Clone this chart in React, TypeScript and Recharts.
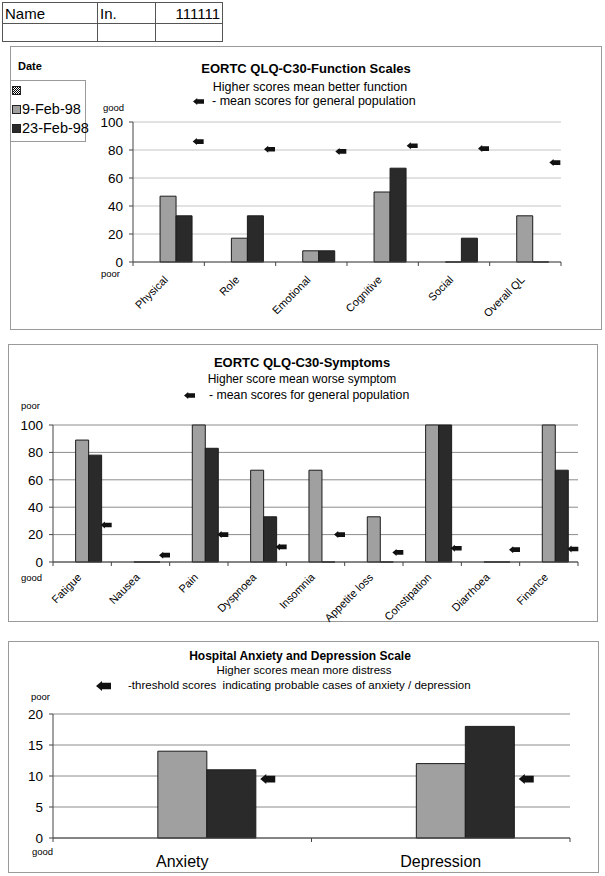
import React from 'react';
import { ComposedChart, Bar, Line, XAxis, YAxis, CartesianGrid } from 'recharts';

const FONT = '"Liberation Sans", Arial, Helvetica, sans-serif';

// ---------- Data ----------
const functionCategories = ['Physical', 'Role', 'Emotional', 'Cognitive', 'Social', 'Overall QL'];
const functionBlank: (number | null)[] = [null, null, null, null, null, null];
const function9Feb = [47, 17, 8, 50, 0, 33];
const function23Feb = [33, 33, 8, 67, 17, 0];
const functionPopMean = [86, 80.5, 79, 83, 81, 71];
const functionTicks = [0, 20, 40, 60, 80, 100];

const symptomCategories = ['Fatigue', 'Nausea', 'Pain', 'Dyspnoea', 'Insomnia', 'Appetite loss', 'Constipation', 'Diarrhoea', 'Finance'];
const symptomBlank: (number | null)[] = [null, null, null, null, null, null, null, null, null];
const symptom9Feb = [89, 0, 100, 67, 67, 33, 100, 0, 100];
const symptom23Feb = [78, 0, 83, 33, 0, 0, 100, 0, 67];
const symptomPopMean = [27, 5, 20, 11, 20, 7, 10, 9, 9.5];
const symptomTicks = [0, 20, 40, 60, 80, 100];

const hadsCategories = ['Anxiety', 'Depression'];
const hadsBlank: (number | null)[] = [null, null];
const hads9Feb = [14, 12];
const hads23Feb = [11, 18];
const hadsThreshold = [9.5, 9.5];
const hadsTicks = [0, 5, 10, 15, 20];

const legendLabels = ['', '9-Feb-98', '23-Feb-98'];
const tableRow1 = ['Name', 'In.', '111111'];

// ---------- Styles ----------
const GRAY = '#a0a0a0';
const DARK = '#2a2a2a';
const EDGE = '#1c1c1c';

const build = (cats: string[], blank: (number | null)[], a: number[], b: number[], m: number[]) =>
  cats.map((c, i) => ({ category: c, blank: blank[i], d1: a[i], d2: b[i], mean: m[i] }));

const functionData = build(functionCategories, functionBlank, function9Feb, function23Feb, functionPopMean);
const symptomData = build(symptomCategories, symptomBlank, symptom9Feb, symptom23Feb, symptomPopMean);
const hadsData = build(hadsCategories, hadsBlank, hads9Feb, hads23Feb, hadsThreshold);

const arrowD = (tipX: number, cy: number, len: number, h: number) => {
  const head = h * 0.6;
  const bh = h * 0.33;
  return `M${tipX},${cy} L${tipX + head},${cy - h / 2} L${tipX + head},${cy - bh} L${tipX + len},${cy - bh} L${tipX + len},${cy + bh} L${tipX + head},${cy + bh} L${tipX + head},${cy + h / 2} Z`;
};

const BarShape = (p: any) => {
  const { x, y, width, height, fill } = p;
  if (x == null || y == null || !Number.isFinite(width) || !Number.isFinite(y)) return <g />;
  const h = Math.max(Number.isFinite(height) ? height : 0, 0);
  return <path d={`M${x},${y + h} V${y} H${x + width} V${y + h} Z`} fill={fill} stroke={EDGE} strokeWidth={1} />;
};

const BlankShape = () => <g />;

const makeArrowDot = (off: number, len: number, h: number) => (p: any) => {
  const { cx, cy, index } = p;
  if (!Number.isFinite(cx) || !Number.isFinite(cy)) return <g key={`a${index}`} />;
  return <path key={`a${index}`} d={arrowD(cx + off, cy, len, h)} fill="#111" />;
};

const makeRotTick = (band: number, fontSize: number, dy: number, count: number) => (props: any) => {
  const { x, y, payload, index } = props;
  const hb = band / 2;
  const ax = x;
  const ay = y + dy;
  return (
    <g>
      <line x1={x - hb} y1={y} x2={x - hb} y2={y + 4} stroke="#444" />
      {index === count - 1 && <line x1={x + hb} y1={y} x2={x + hb} y2={y + 4} stroke="#444" />}
      <text x={ax} y={ay} textAnchor="end" transform={`rotate(-45 ${ax} ${ay})`} fontSize={fontSize} fontFamily={FONT} fill="#000">
        {payload.value}
      </text>
    </g>
  );
};

const makeFlatTick = (band: number, fontSize: number, dy: number, count: number) => (props: any) => {
  const { x, y, payload, index } = props;
  const hb = band / 2;
  return (
    <g>
      <line x1={x - hb} y1={y} x2={x - hb} y2={y + 4} stroke="#444" />
      {index === count - 1 && <line x1={x + hb} y1={y} x2={x + hb} y2={y + 4} stroke="#444" />}
      <text x={x} y={y + dy} textAnchor="middle" fontSize={fontSize} fontFamily={FONT} fill="#000">
        {payload.value}
      </text>
    </g>
  );
};

function T({ x, y, size, bold = false, anchor = 'start', children }: any) {
  const tx = anchor === 'middle' ? '-50%' : anchor === 'end' ? '-100%' : '0';
  return (
    <div
      style={{
        position: 'absolute',
        left: x,
        top: y,
        transform: `translate(${tx}, -50%)`,
        fontSize: size,
        fontWeight: bold ? 700 : 400,
        fontFamily: FONT,
        whiteSpace: 'pre',
        lineHeight: 1,
        color: '#000',
      }}
    >
      {children}
    </div>
  );
}

function ArrowIcon({ x, y, len, h }: any) {
  return (
    <svg style={{ position: 'absolute', left: x, top: y - h / 2 - 1 }} width={len + 2} height={h + 2}>
      <path d={arrowD(1, h / 2 + 1, len, h)} fill="#111" />
    </svg>
  );
}

function Panel({ left, top, width, height }: any) {
  return (
    <div
      style={{
        position: 'absolute',
        left,
        top,
        width: width - 2,
        height: height - 2,
        border: '1px solid #9a9a9a',
      }}
    />
  );
}

type ChartProps = {
  data: any[];
  left: number;
  top: number;
  width: number;
  height: number;
  marginTop: number;
  marginRight: number;
  yWidth: number;
  xHeight: number;
  ticks: number[];
  domainMax: number;
  gap: string;
  tick: any;
  arrowOff: number;
  arrowLen: number;
  arrowH: number;
  gridColor: string;
};

function Chart(p: ChartProps) {
  return (
    <div style={{ position: 'absolute', left: p.left, top: p.top }}>
      <ComposedChart
        width={p.width}
        height={p.height}
        data={p.data}
        margin={{ top: p.marginTop, right: p.marginRight, left: 0, bottom: 0 }}
        barCategoryGap={p.gap}
        barGap={0}
      >
        <CartesianGrid vertical={false} stroke={p.gridColor} />
        <XAxis
          dataKey="category"
          height={p.xHeight}
          interval={0}
          tickLine={false}
          tickSize={0}
          tickMargin={0}
          axisLine={{ stroke: '#444' }}
          tick={p.tick}
        />
        <YAxis
          width={p.yWidth}
          domain={[0, p.domainMax]}
          ticks={p.ticks}
          interval={0}
          axisLine={{ stroke: '#444' }}
          tickLine={{ stroke: '#444' }}
          tickSize={4}
          tickMargin={6}
          tick={{ fontSize: 13.5, fontFamily: FONT, fill: '#000' }}
        />
        <YAxis
          yAxisId="frame"
          orientation="right"
          width={0}
          domain={[0, p.domainMax]}
          tick={false}
          tickLine={false}
          axisLine={{ stroke: '#9a9a9a' }}
        />
        <Bar dataKey="blank" fill="none" shape={BlankShape} isAnimationActive={false} />
        <Bar dataKey="d1" fill={GRAY} shape={BarShape} isAnimationActive={false} />
        <Bar dataKey="d2" fill={DARK} shape={BarShape} isAnimationActive={false} />
        <Line
          dataKey="mean"
          stroke="none"
          dot={makeArrowDot(p.arrowOff, p.arrowLen, p.arrowH)}
          activeDot={false}
          isAnimationActive={false}
          legendType="none"
        />
      </ComposedChart>
    </div>
  );
}

function Legend() {
  const items = [
    { y: 90, kind: 'pattern' },
    { y: 109, kind: 'gray' },
    { y: 128, kind: 'dark' },
  ];
  return (
    <>
      <div style={{ position: 'absolute', left: 10, top: 80, width: 74, height: 60, border: '1px solid #9a9a9a', background: '#fff' }} />
      {items.map((it, i) => (
        <React.Fragment key={i}>
          <svg style={{ position: 'absolute', left: 12, top: it.y - 4 }} width={9} height={9}>
            <defs>
              <pattern id="chk" width="2" height="2" patternUnits="userSpaceOnUse">
                <rect width="2" height="2" fill="#fff" />
                <rect width="1" height="1" fill="#000" />
                <rect x="1" y="1" width="1" height="1" fill="#000" />
              </pattern>
            </defs>
            <rect
              x={0.5}
              y={0.5}
              width={8}
              height={8}
              fill={it.kind === 'pattern' ? 'url(#chk)' : it.kind === 'gray' ? GRAY : DARK}
              stroke="#222"
            />
          </svg>
          <T x={22} y={it.y} size={14.5}>{legendLabels[i]}</T>
        </React.Fragment>
      ))}
    </>
  );
}

function Table() {
  const cols = [2, 97, 155, 222];
  const rows = [2, 23, 41];
  const lines: any[] = [];
  rows.forEach((r, i) =>
    lines.push(<div key={`r${i}`} style={{ position: 'absolute', left: cols[0], top: r, width: cols[3] - cols[0] + 1, height: 1, background: '#555' }} />)
  );
  cols.forEach((c, i) =>
    lines.push(<div key={`c${i}`} style={{ position: 'absolute', left: c, top: rows[0], width: 1, height: rows[2] - rows[0] + 1, background: '#555' }} />)
  );
  return (
    <>
      {lines}
      <T x={5} y={13} size={15}>{tableRow1[0]}</T>
      <T x={100} y={13} size={15}>{tableRow1[1]}</T>
      <T x={220} y={13} size={15} anchor="end">{tableRow1[2]}</T>
    </>
  );
}

export default function App() {
  return (
    <div style={{ position: 'absolute', left: 0, top: 0, width: 605, height: 876, background: '#fff', overflow: 'hidden' }}>
      <Table />

      {/* Panel 1: function scales */}
      <Panel left={10} top={46} width={592} height={284} />
      <T x={18} y={66} size={11} bold>Date</T>
      <Legend />
      <T x={306} y={68} size={13} bold anchor="middle">EORTC QLQ-C30-Function Scales</T>
      <T x={310} y={87} size={12.5} anchor="middle">Higher scores mean better function</T>
      <ArrowIcon x={192} y={101} len={11} h={7} />
      <T x={212} y={101} size={12.5}>- mean scores for general population</T>
      <T x={103} y={108} size={9.5}>good</T>
      <T x={101} y={274} size={9.5}>poor</T>
      <Chart
        data={functionData}
        left={80}
        top={112}
        width={490}
        height={215}
        marginTop={10}
        marginRight={9}
        yWidth={53}
        xHeight={65}
        ticks={functionTicks}
        domainMax={100}
        gap="15.5%"
        tick={makeRotTick(428 / 6, 11, 18.5, functionCategories.length)}
        arrowOff={24}
        arrowLen={11}
        arrowH={7}
        gridColor="#c4c4c4"
      />

      {/* Panel 2: symptoms */}
      <Panel left={8} top={344} width={590} height={278} />
      <T x={302} y={362} size={13} bold anchor="middle">EORTC QLQ-C30-Symptoms</T>
      <T x={302} y={379} size={12} anchor="middle">Higher score mean worse symptom</T>
      <ArrowIcon x={183} y={395} len={11} h={7} />
      <T x={209} y={395} size={12.3}>- mean scores for general population</T>
      <T x={21} y={406} size={9.5}>poor</T>
      <T x={21} y={578} size={9.5}>good</T>
      <Chart
        data={symptomData}
        left={0}
        top={415}
        width={590}
        height={220}
        marginTop={10}
        marginRight={12}
        yWidth={53}
        xHeight={73}
        ticks={symptomTicks}
        domainMax={100}
        gap="16.5%"
        tick={makeRotTick(525 / 9, 11, 16, symptomCategories.length)}
        arrowOff={18.5}
        arrowLen={11}
        arrowH={7}
        gridColor="#8c8c8c"
      />

      {/* Panel 3: HADS */}
      <Panel left={8} top={641} width={591} height={232} />
      <T x={300} y={656} size={12} bold anchor="middle">Hospital Anxiety and Depression Scale</T>
      <T x={304} y={671} size={11.5} anchor="middle">Higher scores mean more distress</T>
      <ArrowIcon x={95} y={686} len={15} h={10} />
      <T x={128} y={686} size={11.5}>-threshold scores  indicating probable cases of anxiety / depression</T>
      <T x={31} y={697} size={9.5}>poor</T>
      <T x={32} y={852} size={9.5}>good</T>
      <Chart
        data={hadsData}
        left={0}
        top={704}
        width={580}
        height={166}
        marginTop={10}
        marginRight={10}
        yWidth={53}
        xHeight={32}
        ticks={hadsTicks}
        domainMax={20}
        gap="21.6%"
        tick={makeFlatTick(517 / 2, 16, 29, hadsCategories.length)}
        arrowOff={78}
        arrowLen={15}
        arrowH={10}
        gridColor="#8c8c8c"
      />
    </div>
  );
}
